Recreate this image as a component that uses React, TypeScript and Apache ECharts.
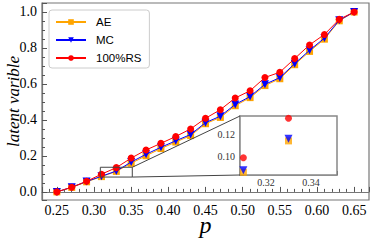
import React, { useEffect, useRef } from "react";
import * as echarts from "echarts";

const pValues = [0.25, 0.27, 0.29, 0.31, 0.33, 0.35, 0.37, 0.39, 0.41, 0.43, 0.45, 0.47, 0.49, 0.51, 0.53, 0.55, 0.57, 0.59, 0.61, 0.63, 0.65];
const aeValues = [0.0, 0.025, 0.056, 0.085, 0.114, 0.159, 0.201, 0.241, 0.277, 0.313, 0.379, 0.414, 0.479, 0.524, 0.591, 0.629, 0.707, 0.781, 0.849, 0.951, 1.0];
const mcValues = [0.0, 0.026, 0.058, 0.087, 0.116, 0.166, 0.209, 0.248, 0.284, 0.319, 0.385, 0.421, 0.486, 0.53, 0.598, 0.635, 0.713, 0.787, 0.855, 0.954, 1.0];
const rsValues = [0.0, 0.026, 0.059, 0.0985, 0.135, 0.188, 0.233, 0.27, 0.308, 0.35, 0.409, 0.457, 0.522, 0.562, 0.636, 0.665, 0.741, 0.817, 0.875, 0.959, 1.0];

const seriesNames = ["AE", "MC", "100%RS"];
const xRange = [0.23, 0.67];
const yRange = [-0.045, 1.05];
const zoomX = [0.3085, 0.3515];
const zoomY = [0.0825, 0.137];

const colors = ["#FFA500", "#0000FF", "#FF0000"];
const symbols = ["rect", "triangle", "circle"];
const symbolSizes = [7, 8, 7];
const symbolRotates = [0, 180, 0];

export default function App() {
  const ref = useRef<HTMLDivElement>(null);
  useEffect(() => {
    const chart = echarts.init(ref.current!, null, { renderer: "svg" });
    const allValues = [aeValues, mcValues, rsValues];
    const pairs = (ys: number[]) => pValues.map((x, i) => [x, ys[i]]);
    const serif = "Liberation Serif";
    const mainSeries = allValues.map((ys, k) => ({
      name: seriesNames[k],
      type: "line",
      xAxisIndex: 0,
      yAxisIndex: 0,
      data: pairs(ys),
      symbol: symbols[k],
      symbolSize: symbolSizes[k],
      symbolRotate: symbolRotates[k],
      showAllSymbol: true,
      itemStyle: { color: colors[k] },
      lineStyle: { color: colors[k], width: 1 },
      z: 2 + k,
    }));
    const insetSeries = allValues.map((ys, k) => ({
      name: seriesNames[k] + " inset",
      type: "scatter",
      xAxisIndex: 1,
      yAxisIndex: 1,
      data: pairs(ys).filter((d) => d[0] >= zoomX[0] && d[0] <= zoomX[1]),
      symbol: symbols[k],
      symbolSize: symbolSizes[k],
      symbolRotate: symbolRotates[k],
      itemStyle: { color: colors[k] },
      z: 5 + k,
    }));
    const axisCommon = {
      axisLine: { show: true, lineStyle: { color: "#777", width: 1.2 } },
      axisTick: { show: true, inside: true, length: 5, lineStyle: { color: "#555" } },
      splitLine: { show: false },
      nameMoveOverlap: false,
    };
    chart.setOption({
      animation: false,
      backgroundColor: "#fff",
      grid: [
        { left: 42, right: 5, top: 3, bottom: 40, containLabel: false, outerBoundsMode: "none", show: true, borderColor: "#777", borderWidth: 1.2, backgroundColor: "transparent" },
        { left: 240, top: 116, width: 97, height: 59, containLabel: false, outerBoundsMode: "none", show: true, borderColor: "#888", borderWidth: 1.5, backgroundColor: "#fff", z: 4 },
      ],
      legend: {
        data: seriesNames,
        left: 49,
        top: 10,
        orient: "vertical",
        itemWidth: 30,
        itemHeight: 7,
        itemGap: 6,
        padding: [6, 8, 4, 6],
        borderColor: "#ccc",
        borderWidth: 1,
        borderRadius: 3,
        backgroundColor: "#fff",
        textStyle: { fontFamily: "Liberation Sans", fontSize: 11.5, color: "#000", padding: [0, 0, 0, 5] },
      },
      xAxis: [
        {
          type: "value",
          gridIndex: 0,
          min: xRange[0],
          max: xRange[1],
          splitNumber: 9,
          ...axisCommon,
          minorTick: { show: true, splitNumber: 5, length: 3, lineStyle: { color: "#555" } },
          axisLabel: {
            fontFamily: serif,
            fontSize: 14,
            color: "#000",
            margin: 3,
            showMinLabel: false,
            showMaxLabel: false,
            formatter: (v: number) => v.toFixed(2),
          },
          name: "p",
          nameLocation: "middle",
          nameGap: 13,
          nameTextStyle: { fontFamily: serif, fontStyle: "italic", fontSize: 24, color: "#000" },
        },
        {
          type: "value",
          gridIndex: 1,
          min: zoomX[0],
          max: zoomX[1],
          splitNumber: 2,
          ...axisCommon,
          axisLine: { show: true, lineStyle: { color: "#888", width: 1.5 } },
          axisTick: { show: true, inside: true, length: 4, lineStyle: { color: "#555" } },
          minorTick: { show: true, splitNumber: 4, length: 2, lineStyle: { color: "#555" } },
          axisLabel: {
            fontFamily: serif,
            fontSize: 10,
            color: "#333",
            margin: 2,
            showMinLabel: false,
            showMaxLabel: false,
            formatter: (v: number) => v.toFixed(2),
          },
        },
      ],
      yAxis: [
        {
          type: "value",
          gridIndex: 0,
          min: yRange[0],
          max: yRange[1],
          splitNumber: 5,
          ...axisCommon,
          minorTick: { show: true, splitNumber: 4, length: 3, lineStyle: { color: "#555" } },
          axisLabel: {
            fontFamily: serif,
            fontSize: 14,
            color: "#000",
            margin: 5,
            showMinLabel: false,
            showMaxLabel: false,
            formatter: (v: number) => v.toFixed(1),
          },
          name: "latent varible",
          nameLocation: "middle",
          nameGap: 20,
          nameTextStyle: { fontFamily: serif, fontStyle: "italic", fontSize: 17, color: "#000" },
        },
        {
          type: "value",
          gridIndex: 1,
          min: zoomY[0],
          max: zoomY[1],
          splitNumber: 3,
          ...axisCommon,
          axisLine: { show: true, lineStyle: { color: "#888", width: 1.5 } },
          axisTick: { show: true, inside: true, length: 4, lineStyle: { color: "#555" } },
          minorTick: { show: true, splitNumber: 4, length: 2, lineStyle: { color: "#555" } },
          axisLabel: {
            fontFamily: serif,
            fontSize: 10,
            color: "#333",
            margin: 5,
            showMinLabel: false,
            showMaxLabel: false,
            formatter: (v: number) => v.toFixed(2),
          },
        },
      ],
      series: [...mainSeries, ...insetSeries],
    });

    const px = (g: number, pt: number[]) => chart.convertToPixel({ gridIndex: g } as any, pt) as number[];
    const rTL = px(0, [zoomX[0], zoomY[1]]);
    const rBR = px(0, [zoomX[1], zoomY[0]]);
    const iTL = px(1, [zoomX[0], zoomY[1]]);
    const iBL = px(1, [zoomX[0], zoomY[0]]);
    const lineStyle = { stroke: "#444", lineWidth: 1 };
    chart.setOption({
      graphic: [
        {
          type: "rect",
          shape: { x: rTL[0], y: rTL[1], width: rBR[0] - rTL[0], height: rBR[1] - rTL[1] },
          style: { fill: "none", stroke: "#444", lineWidth: 1 },
          z: 10,
        },
        { type: "line", shape: { x1: rBR[0], y1: rTL[1], x2: iTL[0], y2: iTL[1] }, style: lineStyle, z: 10 },
        { type: "line", shape: { x1: rBR[0], y1: rBR[1], x2: iBL[0], y2: iBL[1] }, style: lineStyle, z: 10 },
      ],
    });
    return () => chart.dispose();
  }, []);
  return <div ref={ref} style={{ position: "absolute", left: 0, top: 0, width: 374, height: 240 }} />;
}
